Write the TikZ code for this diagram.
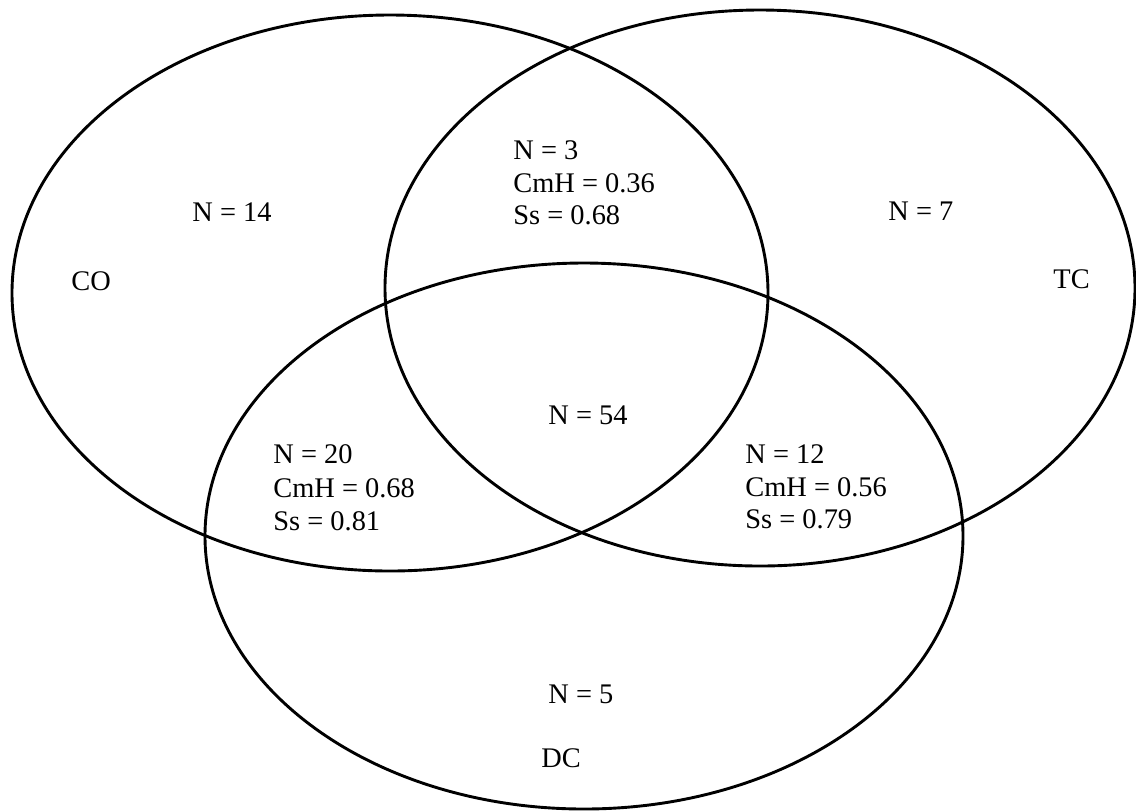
\documentclass[tikz,border=0pt]{standalone}
\usepackage{fontspec}
\setmainfont{Liberation Serif}
\begin{document}
\begin{tikzpicture}[x=0.5pt,y=-0.5pt,
  ring/.style={draw=black, line width=1.45pt},
  lbl/.style={anchor=base west, inner sep=0pt, font=\fontsize{14.2}{16.5}\selectfont}]
\useasboundingbox (0,0) rectangle (1136,811);
% ellipses
\draw[ring] (390,293) ellipse [x radius=189pt, y radius=139pt];
\draw[ring] (760,288) ellipse [x radius=187.5pt, y radius=139pt];
\draw[ring] (584,536) ellipse [x radius=189.5pt, y radius=136.5pt];
% set names
\node[lbl] (co) at (71,290) {CO};
\node[lbl] (tc) at (1053,288) {TC};
\node[lbl] (dc) at (541,767) {DC};
% single regions
\node[lbl] (n14) at (192,221) {N = 14};
\node[lbl] (n7) at (888,220) {N = 7};
\node[lbl] (n54) at (548,424) {N = 54};
\node[lbl] (n5) at (548,703) {N = 5};
% CO & TC
\node[lbl] (a1) at (513,159) {N = 3};
\node[lbl] (a2) at (513,192) {CmH = 0.36};
\node[lbl] (a3) at (513,224) {Ss = 0.68};
% CO & DC
\node[lbl] (b1) at (273,463) {N = 20};
\node[lbl] (b2) at (273,497) {CmH = 0.68};
\node[lbl] (b3) at (273,530) {Ss = 0.81};
% TC & DC
\node[lbl] (c1) at (745,463) {N = 12};
\node[lbl] (c2) at (745,496) {CmH = 0.56};
\node[lbl] (c3) at (745,528) {Ss = 0.79};
\end{tikzpicture}
\end{document}
